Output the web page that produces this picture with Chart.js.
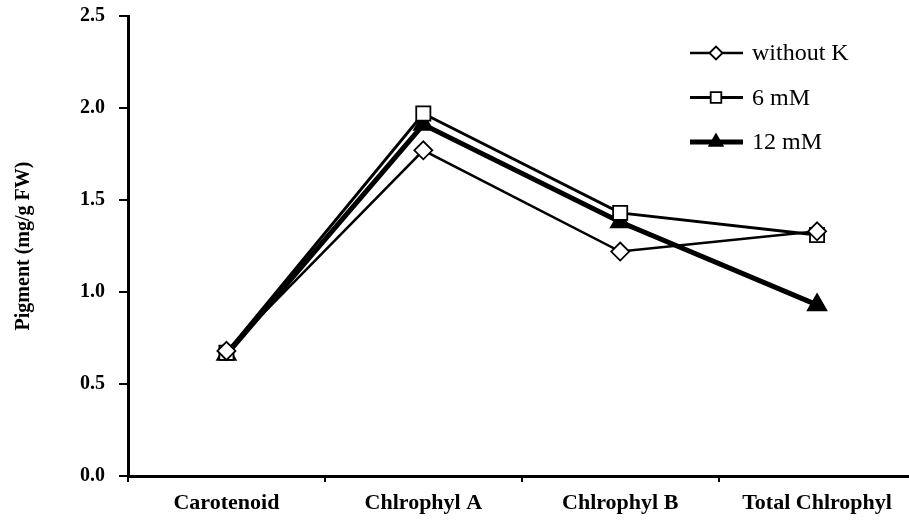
<!DOCTYPE html>
<html>
<head>
<meta charset="utf-8">
<script src="https://cdn.jsdelivr.net/npm/chart.js@4.4.1/dist/chart.umd.min.js"></script>
<style>
  html, body { margin: 0; padding: 0; background: #fff; overflow: hidden; }
  #wrap { width: 909px; height: 522px; overflow: hidden; }
</style>
</head>
<body>
<div id="wrap"><canvas id="chart" width="928" height="522"></canvas></div>
<script>
const categories = ["Carotenoid", "Chlrophyl A", "Chlrophyl B", "Total Chlrophyl"];
const withoutK = [0.68, 1.77, 1.22, 1.33];
const mM6 = [0.67, 1.97, 1.43, 1.31];
const mM12 = [0.66, 1.91, 1.38, 0.93];
const yTicks = [0, 0.5, 1.0, 1.5, 2.0, 2.5];

const serif = "'Liberation Serif', 'Times New Roman', serif";

// legend drawn by hand: a short line with the marker on it
const lineLegend = {
  id: "lineLegend",
  afterDraw(chart) {
    const ctx = chart.ctx;
    const sizes = [6.5, 7.5, 8];
    chart.data.datasets.forEach((ds, i) => {
      const y = 53 + i * 44.5;
      ctx.save();
      ctx.strokeStyle = "#000";
      ctx.lineWidth = ds.borderWidth;
      ctx.beginPath();
      ctx.moveTo(690, y);
      ctx.lineTo(743, y);
      ctx.stroke();
      ctx.fillStyle = ds.pointBackgroundColor;
      ctx.strokeStyle = "#000";
      ctx.lineWidth = ds.pointBorderWidth;
      Chart.helpers.drawPoint(ctx, {
        pointStyle: ds.pointStyle,
        radius: sizes[i],
        borderWidth: ds.pointBorderWidth
      }, 716, y);
      ctx.fillStyle = "#000";
      ctx.font = "24px " + serif;
      ctx.textBaseline = "middle";
      ctx.fillText(ds.label, 752, y + 1);
      ctx.restore();
    });
  }
};

new Chart(document.getElementById("chart"), {
  type: "line",
  data: {
    labels: categories,
    datasets: [
      {
        label: "without K",
        data: withoutK,
        borderColor: "#000",
        borderWidth: 2.5,
        pointStyle: "rectRot",
        pointRadius: 9,
        pointBorderWidth: 1.8,
        pointBackgroundColor: "#fff",
        pointBorderColor: "#000"
      },
      {
        label: "6 mM",
        data: mM6,
        borderColor: "#000",
        borderWidth: 3,
        pointStyle: "rect",
        pointRadius: 10,
        pointBorderWidth: 1.8,
        pointBackgroundColor: "#fff",
        pointBorderColor: "#000"
      },
      {
        label: "12 mM",
        data: mM12,
        borderColor: "#000",
        borderWidth: 5,
        pointStyle: "triangle",
        pointRadius: 11,
        pointBorderWidth: 1.5,
        pointBackgroundColor: "#000",
        pointBorderColor: "#000"
      }
    ]
  },
  options: {
    responsive: false,
    animation: false,
    layout: { padding: { top: 16, right: 0, left: 12, bottom: 0 } },
    plugins: {
      legend: { display: false },
      tooltip: { enabled: false }
    },
    elements: { line: { tension: 0 } },
    scales: {
      x: {
        offset: true,
        grid: {
          offset: true,
          drawOnChartArea: false,
          tickLength: 6,
          color: "#000",
          lineWidth: 2
        },
        border: { color: "#000", width: 3 },
        ticks: {
          color: "#000",
          padding: 8,
          maxRotation: 0,
          font: { family: serif, size: 22, weight: "bold" }
        },
        afterFit(scale) { scale.height = 46; }
      },
      y: {
        min: 0,
        max: 2.5,
        afterBuildTicks(scale) {
          scale.ticks = yTicks.map(v => ({ value: v }));
        },
        grid: {
          drawOnChartArea: false,
          tickLength: 9,
          color: "#000",
          lineWidth: 2
        },
        border: { color: "#000", width: 3 },
        ticks: {
          color: "#000",
          padding: 14,
          callback: v => v.toFixed(1),
          font: { family: serif, size: 20, weight: "bold" }
        },
        title: {
          display: true,
          text: "Pigment (mg/g FW)",
          color: "#000",
          padding: 0,
          font: { family: serif, size: 20, weight: "bold" }
        },
        afterFit(scale) {
          scale.width = 116;
          scale.paddingTop = 0;
          scale.paddingBottom = 0;
        }
      }
    }
  },
  plugins: [lineLegend]
});
</script>
</body>
</html>
